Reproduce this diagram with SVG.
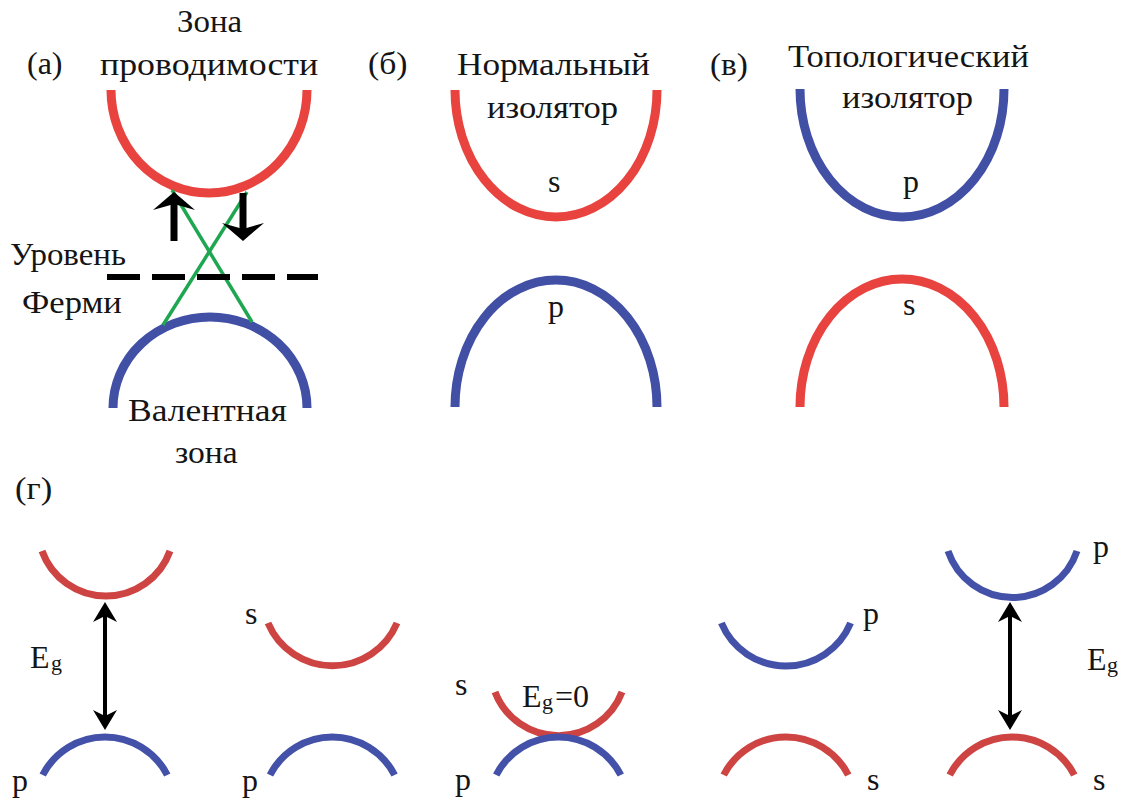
<svg xmlns="http://www.w3.org/2000/svg" width="1129" height="805" viewBox="0 0 1129 805">
<style>
.band{fill:none;stroke-linecap:butt}
.rt{stroke:#e8433f;stroke-width:9}
.bt{stroke:#4150a5;stroke-width:9}
.rb{stroke:#cd4443;stroke-width:7}
.bb{stroke:#4352a8;stroke-width:7}
.green{stroke:#1fa650;stroke-width:3.5;fill:none}
.arr{stroke:#000;fill:none}
</style>
<defs>
<marker id="headThin" viewBox="-16 -13 24 26" refX="0" refY="0" markerWidth="24" markerHeight="26" markerUnits="userSpaceOnUse" orient="auto-start-reverse">
<path d="M6,0 L-14,-12 L-8,0 L-14,12 Z" fill="#000"/>
</marker>
<marker id="headThick" viewBox="-12 -22 22 44" refX="0" refY="0" markerWidth="22" markerHeight="44" markerUnits="userSpaceOnUse" orient="auto">
<path d="M8,0 L-10,-21 L-4,0 L-10,21 Z" fill="#000"/>
</marker>
</defs>
<rect width="1129" height="805" fill="#fff"/>

<!-- Panel a -->
<g id="panel-a-label"><text font-family="Liberation Serif" font-size="32" fill="#151515" x="27" y="74">(а)</text></g>
<g id="a-conduction">
<path class="band rt" d="M111,90 A98,103 0 0 0 307,90"/>
<text font-family="Liberation Serif" font-size="32" fill="#151515" transform="translate(177,32) scale(1.03,1)">Зона</text>
<text font-family="Liberation Serif" font-size="32" fill="#151515" transform="translate(100,75) scale(1.12,1)">проводимости</text>
</g>
<g id="a-valence">
<path class="band bt" d="M113,408 A97,91 0 0 1 307,408"/>
<text font-family="Liberation Serif" font-size="32" fill="#151515" transform="translate(128,421) scale(1.11,1)">Валентная</text>
<text font-family="Liberation Serif" font-size="32" fill="#151515" transform="translate(175,463) scale(1.05,1)">зона</text>
</g>
<g id="a-surface-states">
<line class="green" x1="172" y1="190" x2="252" y2="322"/>
<line class="green" x1="247" y1="192" x2="163" y2="325"/>
</g>
<g id="a-fermi">
<line x1="107" y1="277" x2="318" y2="277" stroke="#000" stroke-width="6" stroke-dasharray="33 12"/>
<text font-family="Liberation Serif" font-size="32" fill="#151515" transform="translate(10,265) scale(1.03,1)">Уровень</text>
<text font-family="Liberation Serif" font-size="32" fill="#151515" transform="translate(22,313) scale(1.08,1)">Ферми</text>
</g>

<!-- Panel b -->
<g id="panel-b-label"><text font-family="Liberation Serif" font-size="32" fill="#151515" transform="translate(368,74) scale(1.05,1)">(б)</text></g>
<g id="b-title">
<text font-family="Liberation Serif" font-size="32" fill="#151515" transform="translate(457,75) scale(1.10,1)">Нормальный</text>
<text font-family="Liberation Serif" font-size="32" fill="#151515" transform="translate(487,118) scale(1.08,1)">изолятор</text>
</g>
<g id="b-conduction">
<path class="band rt" d="M455,90 A101,127 0 0 0 657,90"/>
<text font-family="Liberation Serif" font-size="32" fill="#151515" x="548" y="192">s</text>
</g>
<g id="b-valence">
<path class="band bt" d="M455,407 A101,127 0 0 1 657,407"/>
<text font-family="Liberation Serif" font-size="32" fill="#151515" x="548" y="317">p</text>
</g>

<!-- Panel c -->
<g id="panel-c-label"><text font-family="Liberation Serif" font-size="32" fill="#151515" transform="translate(710,75) scale(1.04,1)">(в)</text></g>
<g id="c-title">
<text font-family="Liberation Serif" font-size="32" fill="#151515" transform="translate(788,67) scale(1.08,1)">Топологический</text>
<text font-family="Liberation Serif" font-size="32" fill="#151515" transform="translate(842,108) scale(1.08,1)">изолятор</text>
</g>
<g id="c-conduction">
<path class="band bt" d="M800,89 A102,128 0 0 0 1004,89"/>
<text font-family="Liberation Serif" font-size="32" fill="#151515" x="903" y="192">p</text>
</g>
<g id="c-valence">
<path class="band rt" d="M800,407 A102,128 0 0 1 1004,407"/>
<text font-family="Liberation Serif" font-size="32" fill="#151515" x="903" y="315">s</text>
</g>

<!-- Panel d -->
<g id="panel-d-label"><text font-family="Liberation Serif" font-size="32" fill="#151515" transform="translate(15,499) scale(1.08,1)">(г)</text></g>
<g id="d1">
<path class="band rb" d="M42,551 A68,68 0 0 0 170,551"/>
<path class="band bb" d="M42.7,775 A70,70 0 0 1 167.3,775"/>
<text font-family="Liberation Serif" font-size="32" fill="#151515" x="30" y="668">E</text>
<text font-family="Liberation Serif" font-size="22" fill="#151515" x="51" y="670">g</text>
<text font-family="Liberation Serif" font-size="32" fill="#151515" x="12" y="791">p</text>
</g>
<g id="d2">
<path class="band rb" d="M268,623 A70,70 0 0 0 397,623"/>
<path class="band bb" d="M270,775 A70,70 0 0 1 394.6,775"/>
<text font-family="Liberation Serif" font-size="32" fill="#151515" x="245" y="624">s</text>
<text font-family="Liberation Serif" font-size="32" fill="#151515" x="242" y="791">p</text>
</g>
<g id="d3">
<path class="band rb" d="M495,692 A68,68 0 0 0 622,692"/>
<path class="band bb" d="M496.2,775 A70,70 0 0 1 620.8,775"/>
<text font-family="Liberation Serif" font-size="32" fill="#151515" x="455" y="695">s</text>
<text font-family="Liberation Serif" font-size="32" fill="#151515" x="455" y="790">p</text>
<text font-family="Liberation Serif" font-size="32" fill="#151515" x="522" y="707">E</text>
<text font-family="Liberation Serif" font-size="22" fill="#151515" x="542" y="709">g</text>
<text font-family="Liberation Serif" font-size="32" fill="#151515" x="555" y="707">=0</text>
</g>
<g id="d4">
<path class="band bb" d="M721.4,623 A70,70 0 0 0 850.6,623"/>
<path class="band rb" d="M723.7,775 A70,70 0 0 1 848.3,775"/>
<text font-family="Liberation Serif" font-size="32" fill="#151515" x="863" y="624">p</text>
<text font-family="Liberation Serif" font-size="32" fill="#151515" x="867" y="790">s</text>
</g>
<g id="d5">
<path class="band bb" d="M948,551 A68,68 0 0 0 1077,551"/>
<path class="band rb" d="M949.7,775 A70,70 0 0 1 1074.3,775"/>
<text font-family="Liberation Serif" font-size="32" fill="#151515" x="1093" y="557">p</text>
<text font-family="Liberation Serif" font-size="32" fill="#151515" x="1093" y="790">s</text>
<text font-family="Liberation Serif" font-size="32" fill="#151515" x="1087" y="670">E</text>
<text font-family="Liberation Serif" font-size="22" fill="#151515" x="1107" y="672">g</text>
</g>

<g id="connectors">
<line class="arr" x1="174" y1="241" x2="174" y2="200" stroke-width="7" marker-end="url(#headThick)"/>
<line class="arr" x1="243" y1="193" x2="243" y2="233" stroke-width="7" marker-end="url(#headThick)"/>
<line class="arr" x1="105" y1="608" x2="105" y2="724" stroke-width="4" marker-start="url(#headThin)" marker-end="url(#headThin)"/>
<line class="arr" x1="1010" y1="608" x2="1010" y2="724" stroke-width="4" marker-start="url(#headThin)" marker-end="url(#headThin)"/>
</g>
</svg>
